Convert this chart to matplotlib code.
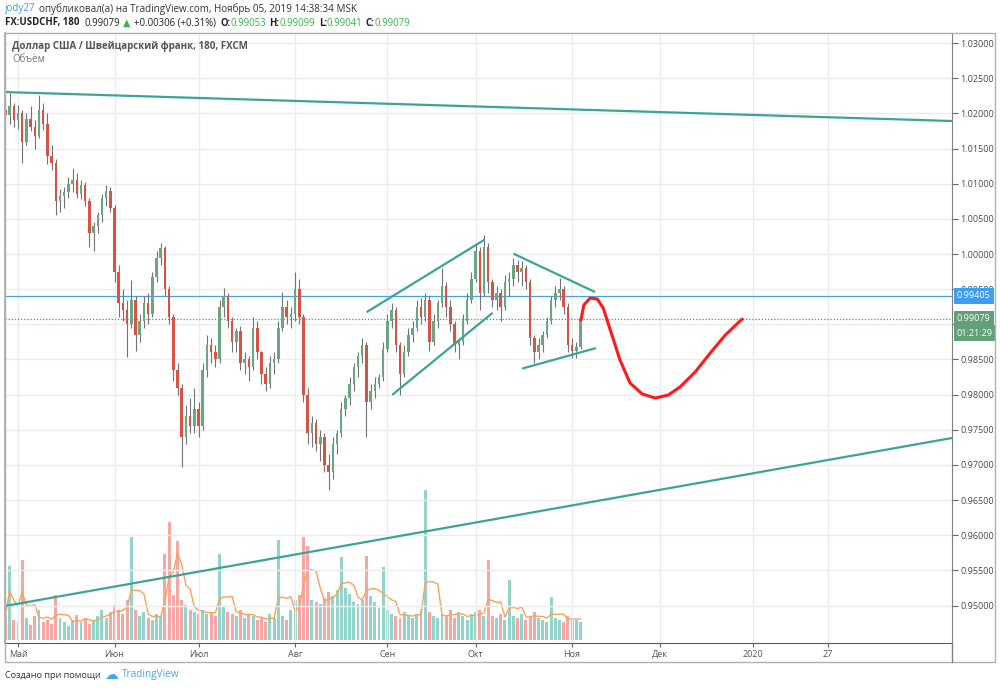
import matplotlib
matplotlib.use('Agg')
import matplotlib.pyplot as plt
import matplotlib.transforms as mtransforms
from matplotlib.patches import Rectangle
import numpy as np
import pandas as pd

plt.rcParams['font.family'] = ['Open Sans', 'DejaVu Sans']

# daily bars, x = trading-day index counted from 1 May 2019
bar_idx = list(range(-3, 135))
first_open = 1.0205
closes = [1.0198, 1.0210, 1.0190, 1.0200, 1.0160, 1.0192, 1.0180, 1.0168, 1.0205, 1.0185,
          1.0140, 1.0130, 1.0075, 1.0082, 1.0088, 1.0100, 1.0105, 1.0085, 1.0098, 1.0075,
          1.0030, 1.0040, 1.0055, 1.0080, 1.0090, 1.0065, 0.9975, 0.9930, 0.9920, 0.9900,
          0.9935, 0.9885, 0.9905, 0.9930, 0.9915, 0.9968, 0.9995, 1.0008, 0.9950, 0.9910,
          0.9835, 0.9810, 0.9740, 0.9770, 0.9755, 0.9780, 0.9755, 0.9835, 0.9870, 0.9860,
          0.9850, 0.9925, 0.9940, 0.9905, 0.9875, 0.9890, 0.9845, 0.9850, 0.9840, 0.9895,
          0.9860, 0.9830, 0.9815, 0.9845, 0.9850, 0.9895, 0.9925, 0.9910, 0.9915, 0.9950,
          0.9910, 0.9800, 0.9745, 0.9760, 0.9730, 0.9740, 0.9700, 0.9690, 0.9730, 0.9745,
          0.9780, 0.9795, 0.9815, 0.9840, 0.9855, 0.9870, 0.9790, 0.9805, 0.9815, 0.9825,
          0.9865, 0.9905, 0.9920, 0.9870, 0.9830, 0.9860, 0.9885, 0.9895, 0.9925, 0.9910,
          0.9935, 0.9875, 0.9905, 0.9930, 0.9955, 0.9925, 0.9900, 0.9870, 0.9875, 0.9905,
          0.9935, 0.9965, 1.0005, 0.9945, 1.0010, 0.9960, 0.9935, 0.9945, 0.9925, 0.9960,
          0.9965, 0.9985, 0.9975, 0.9980, 0.9960, 0.9880, 0.9860, 0.9870, 0.9885, 0.9905,
          0.9935, 0.9945, 0.9950, 0.9925, 0.9870, 0.9862, 0.9868, 0.99079]
highs = [1.0222, 1.0229, 1.0215, 1.0212, 1.0205, 1.0200, 1.0210, 1.0190, 1.0226, 1.0215,
         1.0200, 1.0155, 1.0135, 1.0092, 1.0095, 1.0110, 1.0122, 1.0115, 1.0105, 1.0102,
         1.0080, 1.0045, 1.0060, 1.0085, 1.0098, 1.0095, 1.0070, 0.9985, 0.9950, 0.9935,
         0.9963, 0.9940, 0.9915, 0.9940, 0.9945, 0.9975, 1.0005, 1.0016, 1.0012, 0.9955,
         0.9915, 0.9845, 0.9815, 0.9785, 0.9795, 0.9810, 0.9790, 0.9845, 0.9885, 0.9880,
         0.9870, 0.9935, 0.9952, 0.9945, 0.9910, 0.9895, 0.9898, 0.9860, 0.9855, 0.9910,
         0.9905, 0.9862, 0.9840, 0.9855, 0.9860, 0.9905, 0.9946, 0.9935, 0.9925, 0.9974,
         0.9965, 0.9915, 0.9810, 0.9770, 0.9765, 0.9750, 0.9745, 0.9715, 0.9740, 0.9750,
         0.9790, 0.9800, 0.9825, 0.9845, 0.9860, 0.9880, 0.9875, 0.9815, 0.9825, 0.9830,
         0.9875, 0.9915, 0.9930, 0.9925, 0.9875, 0.9870, 0.9895, 0.9905, 0.9935, 0.9938,
         0.9945, 0.9940, 0.9915, 0.9935, 0.9980, 0.9960, 0.9935, 0.9905, 0.9880, 0.9915,
         0.9945, 0.9975, 1.0015, 1.0010, 1.0027, 1.0015, 0.9965, 0.9955, 0.9950, 0.9970,
         0.9975, 0.9994, 0.9992, 0.9990, 0.9985, 0.9965, 0.9885, 0.9880, 0.9890, 0.9910,
         0.9940, 0.9955, 0.9966, 0.9955, 0.9930, 0.9880, 0.9875, 0.9912]
lows = [1.0190, 1.0185, 1.0180, 1.0178, 1.0130, 1.0155, 1.0175, 1.0150, 1.0165, 1.0176,
        1.0128, 1.0120, 1.0055, 1.0060, 1.0065, 1.0080, 1.0088, 1.0080, 1.0078, 1.0068,
        1.0010, 1.0005, 1.0030, 1.0045, 1.0068, 1.0060, 0.9960, 0.9910, 0.9905, 0.9853,
        0.9895, 0.9862, 0.9875, 0.9895, 0.9900, 0.9910, 0.9960, 0.9985, 0.9940, 0.9900,
        0.9820, 0.9800, 0.9697, 0.9730, 0.9745, 0.9745, 0.9740, 0.9750, 0.9825, 0.9845,
        0.9840, 0.9845, 0.9910, 0.9895, 0.9860, 0.9860, 0.9835, 0.9830, 0.9820, 0.9835,
        0.9850, 0.9815, 0.9805, 0.9810, 0.9830, 0.9845, 0.9890, 0.9900, 0.9895, 0.9905,
        0.9900, 0.9790, 0.9730, 0.9725, 0.9720, 0.9705, 0.9690, 0.9664, 0.9680, 0.9715,
        0.9740, 0.9770, 0.9785, 0.9805, 0.9825, 0.9845, 0.9740, 0.9780, 0.9795, 0.9810,
        0.9820, 0.9860, 0.9895, 0.9860, 0.9800, 0.9825, 0.9855, 0.9875, 0.9890, 0.9900,
        0.9905, 0.9862, 0.9870, 0.9895, 0.9925, 0.9910, 0.9890, 0.9860, 0.9850, 0.9870,
        0.9900, 0.9930, 0.9960, 0.9920, 0.9940, 0.9945, 0.9925, 0.9920, 0.9905, 0.9920,
        0.9940, 0.9955, 0.9960, 0.9955, 0.9950, 0.9870, 0.9845, 0.9850, 0.9860, 0.9880,
        0.9900, 0.9925, 0.9935, 0.9915, 0.9860, 0.9852, 0.9852, 0.9865]
volumes = [25, 74, 20, 18, 80, 22, 15, 24, 30, 18, 20, 16, 45, 22, 18, 14, 20, 25, 18, 22,
           16, 20, 24, 30,
           22, 28, 35, 30, 26, 40, 103, 30, 24, 28,
           22, 20, 26, 24, 86, 118, 45,
           99, 40, 35, 30, 28, 26,
           30, 26, 28, 24, 86, 34, 28, 26, 24, 30, 22, 26,
           24, 20, 22, 18, 26, 22, 100, 24, 20, 30,
           40, 45, 103, 94, 40, 38, 36,
           42, 48, 44, 50, 83, 52, 46, 38,
           36, 40, 84, 44, 38, 32, 73,
           30, 26, 24, 22, 28, 24, 22, 26, 30, 150, 28, 24, 22,
           26, 24, 30, 22, 28, 24, 20, 26, 28, 30, 24, 80,
           24, 22, 26, 20, 60, 24, 22, 26, 20, 24, 28, 22,
           20, 18, 43, 22, 20, 18, 24, 22, 20, 18]

# drawn trend lines: start/end (bar index, price)
trend_x0 = [-3.1, -3.1, 83.2, 89.3, 118.2, 120.3]
trend_y0 = [1.02304, 0.94993, 0.99179, 0.98004, 1.00000, 0.98374]
trend_x1 = [222.5, 222.5, 111.0, 112.9, 137.3, 137.5]
trend_y1 = [1.01892, 0.97383, 1.00199, 0.99156, 0.99464, 0.98659]

# hand-drawn forecast path
forecast_x = [134.1, 134.8, 136.3, 138.0, 139.4, 141.1, 143.4, 145.8, 148.7, 151.8,
              154.9, 157.7, 161.3, 164.9, 168.5, 172.5]
forecast_y = [0.99061, 0.99275, 0.99374, 0.99360, 0.99232, 0.98919, 0.98492, 0.98165,
              0.98009, 0.97952, 0.97994, 0.98108, 0.98321, 0.98592, 0.98848, 0.99075]

level_price = 0.99405
last_price = 0.99079

month_idx = [0, 23, 43, 66, 88, 109, 132, 153, 175, 193]
month_labels = ['Май', 'Июн', 'Июл', 'Авг', 'Сен', 'Окт', 'Ноя', 'Дек', '2020', '27']
price_ticks = np.round(np.arange(0.950, 1.0301, 0.005), 3)

W, H = 1000, 689
fig = plt.figure(figsize=(W / 100, H / 100), dpi=100)
fig.patch.set_facecolor('white')


def rect(x0, y0, x1, y1):
    return [x0 / W, 1 - y1 / H, (x1 - x0) / W, (y1 - y0) / H]


pane = rect(5, 33, 952, 643)
vax = fig.add_axes(pane, zorder=0)
ax = fig.add_axes(pane, zorder=1, sharex=vax)
ax.patch.set_alpha(0)

x = np.array(bar_idx)
c = np.array(closes)
o = np.array([first_open] + closes[:-1])
hi = np.array(highs)
lo = np.array(lows)
up = c >= o

# volume with moving average
vax.bar(x, volumes, width=0.7, color=np.where(up, '#93d4ca', '#f6a7a4'), linewidth=0)
vma = pd.Series(volumes).rolling(4, min_periods=1).mean()
vax.plot(x, vma, color='#f7a35c', lw=1)
vax.set_ylim(-3, 607)
vax.axis('off')

# candles
ax.vlines(x, lo, hi, color='#737375', lw=0.8, zorder=3)
body = np.maximum(np.abs(c - o), 0.00006)
ax.bar(x, body, bottom=np.minimum(o, c), width=0.6,
       color=np.where(up, '#6ba583', '#d75442'), linewidth=0, zorder=4)

for x0, y0, x1, y1 in zip(trend_x0, trend_y0, trend_x1, trend_y1):
    ax.plot([x0, x1], [y0, y1], color='#3aa597', lw=1.6, zorder=5, solid_capstyle='round')

ax.plot(forecast_x, forecast_y, color='#ff1a1a', lw=2.2, zorder=6,
        solid_capstyle='round', solid_joinstyle='round')

ax.axhline(level_price, color='#4a9fe8', lw=0.9, zorder=2)
ax.axhline(last_price, color='#3c9f5a', lw=0.9, ls=(0, (1, 1.5)), zorder=2)

ax.set_xlim(-3.1, 222.5)
ax.set_ylim(0.94467, 1.03144)
ax.set_axisbelow(True)
ax.grid(color='#ececec', lw=1)

ax.yaxis.tick_right()
ax.set_yticks(price_ticks)
# 0.99000 sits under the last-price tag, as on the original scale
ax.set_yticklabels(['' if abs(t - 0.99) < 1e-9 else f'{t:.5f}' for t in price_ticks])
ax.tick_params(axis='y', length=4, width=0.8, color='#666666', labelsize=6.5,
               labelcolor='#4a4a4a', pad=2)
ax.set_xticks(month_idx)
ax.set_xticklabels(month_labels)
ax.tick_params(axis='x', length=3, width=0.8, color='#666666', labelsize=6.5,
               labelcolor='#555555', pad=2)

ax.spines['left'].set_color('#b5b5b5')
ax.spines['left'].set_linewidth(1.5)
ax.spines['top'].set_color('#d0d0d0')
ax.spines['right'].set_color('#808080')
ax.spines['bottom'].set_color('#5a5a5a')

# price tags on the right scale
blend = mtransforms.blended_transform_factory(ax.transAxes, ax.transData)


def price_tag(price, text, color, dy=0):
    ax.annotate(text, xy=(1, price), xycoords=blend, xytext=(3.5, dy),
                textcoords='offset points', ha='left', va='center', fontsize=6.5,
                color='white', bbox=dict(boxstyle='square,pad=0.35', fc=color, ec='none'),
                annotation_clip=False, zorder=10)


price_tag(level_price, f'{level_price:.5f}', '#3d9ff0')
price_tag(last_price, f'{last_price:.5f}', '#62a07a')
price_tag(last_price, '01:21:29', '#62a07a', dy=-10.3)

# frame, header and footer
deco = fig.add_axes([0, 0, 1, 1], zorder=3)
deco.set_xlim(0, W)
deco.set_ylim(H, 0)
deco.axis('off')
deco.add_patch(Rectangle((5, 33), 990, 629, fill=False, ec='#b0b0b0', lw=1))
deco.plot([952, 952], [643, 662], color='#808080', lw=1)

deco.text(5, 9, 'jody27', color='#3ca0dc', fontsize=7.1, va='center')
deco.text(39, 9, 'опубликовал(а) на TradingView.com, Ноябрь 05, 2019 14:38:34 MSK',
          color='#333333', fontsize=7.1, va='center')

# second header line: pieces chained one after another
header = [('FX:USDCHF, 180', '#222222', 'bold', 0), ('0.99079', '#222222', 'normal', 3.5),
          ('▲', '#3cb44b', 'normal', 2), ('+0.00306 (+0.31%)', '#222222', 'normal', 3),
          ('O:', '#222222', 'bold', 3), ('0.99053', '#3cb44b', 'normal', 0),
          ('H:', '#222222', 'bold', 2.5), ('0.99099', '#3cb44b', 'normal', 0),
          ('L:', '#222222', 'bold', 2.5), ('0.99041', '#3cb44b', 'normal', 0),
          ('C:', '#222222', 'bold', 2.5), ('0.99079', '#3cb44b', 'normal', 0)]
prev = None
for txt, col, wt, gap in header:
    if prev is None:
        prev = deco.text(5, 23, txt, color=col, fontsize=6.9, fontweight=wt, va='center')
    else:
        prev = deco.annotate(txt, xy=(1, 0.5), xycoords=prev, xytext=(gap, 0),
                             textcoords='offset points', color=col, fontsize=6.9,
                             fontweight=wt, va='center', ha='left')

deco.text(12, 46.5, 'Доллар США / Швейцарский франк, 180, FXCM', color='#555555',
          fontsize=7, fontweight='bold', va='center')
deco.text(12, 60, 'Объём', color='#777777', fontsize=7, va='center')

deco.text(5, 675, 'Создано при помощи', color='#333333', fontsize=6.6, va='center')
deco.text(104, 675, '☁', color='#46a8e6', fontsize=10, va='center', family='DejaVu Sans')
deco.text(122, 675, 'TradingView', color='#46a8e6', fontsize=7.2, va='center')

fig.savefig('out.png', dpi=100, facecolor='white')
